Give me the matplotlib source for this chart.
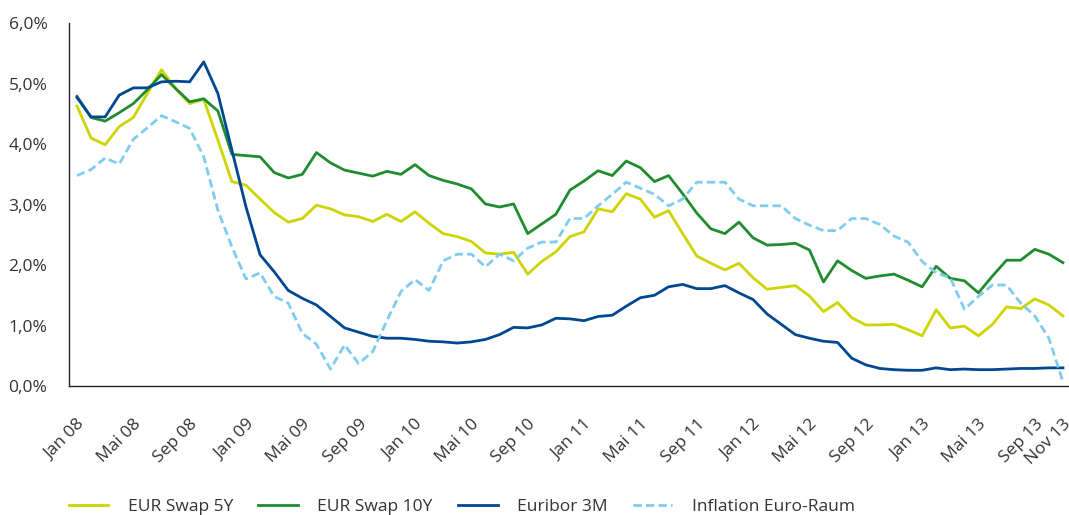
import matplotlib.pyplot as plt
import numpy as np
from matplotlib.ticker import FuncFormatter

plt.rcParams['font.family'] = ['Open Sans', 'DejaVu Sans']

# Monatswerte Jan 08 .. Nov 13 (in %)
months = ["Jan", "Feb", "Mrz", "Apr", "Mai", "Jun", "Jul", "Aug", "Sep", "Okt", "Nov", "Dez"]
dates = [f"{months[i % 12]} {8 + i // 12:02d}" for i in range(71)]

swap_5y = [4.63, 4.10, 3.99, 4.29, 4.44, 4.84, 5.23, 4.92, 4.67, 4.74,
           4.07, 3.38, 3.32, 3.09, 2.87, 2.71, 2.77, 2.99, 2.93, 2.83,
           2.80, 2.72, 2.84, 2.72, 2.88, 2.69, 2.52, 2.47, 2.39, 2.20,
           2.18, 2.21, 1.85, 2.06, 2.22, 2.47, 2.55, 2.93, 2.88, 3.18,
           3.09, 2.79, 2.90, 2.52, 2.15, 2.03, 1.92, 2.03, 1.79, 1.60,
           1.63, 1.66, 1.49, 1.23, 1.38, 1.13, 1.01, 1.01, 1.02, 0.93,
           0.83, 1.26, 0.96, 0.99, 0.83, 1.02, 1.31, 1.28, 1.44, 1.34,
           1.16]
swap_10y = [4.79, 4.44, 4.38, 4.52, 4.67, 4.90, 5.15, 4.92, 4.70, 4.75,
            4.55, 3.83, 3.81, 3.79, 3.53, 3.44, 3.50, 3.86, 3.69, 3.57,
            3.52, 3.47, 3.55, 3.50, 3.66, 3.48, 3.40, 3.34, 3.26, 3.01,
            2.96, 3.01, 2.52, 2.68, 2.84, 3.24, 3.39, 3.56, 3.48, 3.72,
            3.61, 3.38, 3.48, 3.18, 2.86, 2.60, 2.52, 2.71, 2.45, 2.33,
            2.34, 2.36, 2.25, 1.72, 2.07, 1.91, 1.78, 1.82, 1.85, 1.75,
            1.64, 1.98, 1.78, 1.74, 1.54, 1.82, 2.08, 2.08, 2.26, 2.18,
            2.04]
euribor_3m = [4.77, 4.45, 4.45, 4.81, 4.93, 4.93, 5.03, 5.04, 5.03, 5.36,
              4.84, 3.90, 2.96, 2.17, 1.89, 1.58, 1.45, 1.34, 1.15, 0.96,
              0.89, 0.82, 0.79, 0.79, 0.77, 0.74, 0.73, 0.71, 0.73, 0.77,
              0.85, 0.97, 0.96, 1.01, 1.12, 1.11, 1.08, 1.15, 1.17, 1.32,
              1.46, 1.50, 1.64, 1.68, 1.61, 1.61, 1.66, 1.54, 1.43, 1.19,
              1.02, 0.85, 0.79, 0.74, 0.72, 0.46, 0.35, 0.29, 0.27, 0.26,
              0.26, 0.30, 0.27, 0.28, 0.27, 0.27, 0.28, 0.29, 0.29, 0.30,
              0.30]
inflation = [3.48, 3.58, 3.77, 3.67, 4.08, 4.27, 4.47, 4.37, 4.26, 3.79,
             2.91, 2.30, 1.77, 1.87, 1.48, 1.37, 0.87, 0.69, 0.28, 0.68,
             0.37, 0.57, 1.08, 1.56, 1.76, 1.58, 2.07, 2.18, 2.18, 1.97,
             2.18, 2.07, 2.28, 2.38, 2.38, 2.77, 2.77, 2.98, 3.17, 3.37,
             3.27, 3.17, 2.98, 3.09, 3.37, 3.37, 3.37, 3.09, 2.98, 2.98,
             2.98, 2.77, 2.66, 2.57, 2.57, 2.77, 2.77, 2.67, 2.48, 2.38,
             2.06, 1.87, 1.79, 1.27, 1.48, 1.67, 1.67, 1.37, 1.16, 0.79,
             0.07]

tick_idx = list(range(0, 69, 4)) + [70]

fig = plt.figure(figsize=(10.69, 5.15), dpi=100)
ax = fig.add_axes([0.0645, 0.2505, 0.9355, 0.7045])

x = np.arange(len(dates))
ax.plot(x, swap_5y, color="#CCD500", lw=2.0, label="EUR Swap 5Y")
ax.plot(x, swap_10y, color="#1F8C2E", lw=2.0, label="EUR Swap 10Y")
ax.plot(x, euribor_3m, color="#004792", lw=2.0, label="Euribor 3M")
ax.plot(x, inflation, color="#7FCCEF", lw=2.0, ls=(0, (3, 1.5)), label="Inflation Euro-Raum")

ax.set_xlim(-0.57, 70.43)
ax.set_ylim(0, 6)
ax.set_yticks(np.arange(0, 6.1, 1))
ax.yaxis.set_major_formatter(FuncFormatter(lambda v, p: f"{v:.1f}%".replace(".", ",")))
ax.set_xticks(tick_idx)
ax.set_xticklabels([dates[i] for i in tick_idx], rotation=45, ha="right", rotation_mode="anchor")

for s in ["top", "right"]:
    ax.spines[s].set_visible(False)
for s in ["left", "bottom"]:
    ax.spines[s].set_color("#222222")
    ax.spines[s].set_linewidth(1.0)
ax.tick_params(axis="both", length=0, labelsize=12.5, colors="#333333")
ax.tick_params(axis="y", pad=15.5)
ax.tick_params(axis="x", pad=22)

fig.legend(loc="center left", bbox_to_anchor=(0.0495, 0.016), ncol=4, frameon=False,
           fontsize=12.5, handlelength=2.3, handletextpad=1.1, columnspacing=1.45,
           labelcolor="#333333")

fig.savefig("out.png", dpi=100)
